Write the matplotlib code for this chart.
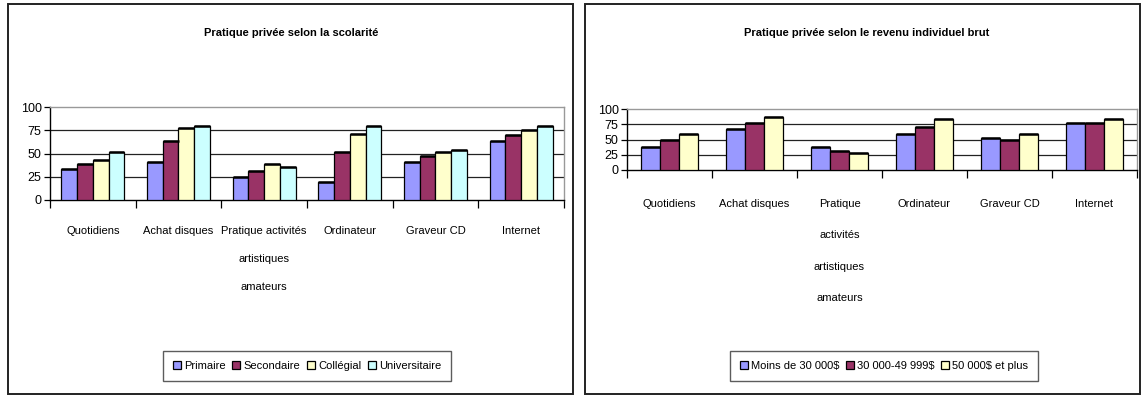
import matplotlib
matplotlib.use("Agg")
import numpy as np
import matplotlib.pyplot as plt
import matplotlib.patches as mpatches
from matplotlib import font_manager

# narrow font if available, otherwise Arial-like Liberation Sans
names = {f.name for f in font_manager.fontManager.ttflist}
if 'Liberation Sans Narrow' in names:
    plt.rcParams['font.family'] = ['Liberation Sans Narrow', 'DejaVu Sans']
    fs = 9
else:
    plt.rcParams['font.family'] = ['Liberation Sans', 'DejaVu Sans']
    fs = 8

# Data - left chart (scolarité)
cats_left = ['Quotidiens', 'Achat disques', 'Pratique activités\nartistiques\namateurs',
             'Ordinateur', 'Graveur CD', 'Internet']
series_left = ['Primaire', 'Secondaire', 'Collégial', 'Universitaire']
primaire = [33.5, 40.6, 24.8, 19.8, 40.6, 63.7]
secondaire = [38.5, 63.7, 31.7, 52, 47, 70]
collegial = [43, 77, 38.5, 70.5, 52, 75]
universitaire = [52, 79.5, 36, 79.5, 54.3, 79.5]

# Data - right chart (revenu)
cats_right = ['Quotidiens', 'Achat disques', 'Pratique\nactivités\nartistiques\namateurs',
              'Ordinateur', 'Graveur CD', 'Internet']
series_right = ['Moins de 30 000$', '30 000-49 999$', '50 000$ et plus']
moins_30k = [38, 66.7, 38, 59.5, 52.5, 77]
de_30k_50k = [49, 77, 31.7, 70, 49, 77]
plus_50k = [59.5, 87.4, 28.4, 84, 59.5, 84]

yticks = [0, 25, 50, 75, 100]
colors = ['#9999FF', '#993366', '#FFFFCC', '#CCFFFF']

W, H = 1143, 396
fig = plt.figure(figsize=(W / 100, H / 100), dpi=100)

# chart frames
for x0, x1 in [(8, 573), (585, 1140)]:
    fig.patches.append(mpatches.Rectangle((x0 / W, 2 / H), (x1 - x0) / W, (H - 6) / H,
                                          transform=fig.transFigure, fill=False,
                                          edgecolor='#222222', linewidth=1.4))


def px_axes(x0, x1, ytop, ybot):
    return fig.add_axes([x0 / W, 1 - ybot / H, (x1 - x0) / W, (ybot - ytop) / H])


def draw(ax, cats, data, names, bar_w, pad, lsp):
    x = np.arange(len(cats))
    n = len(data)
    for i, vals in enumerate(data):
        xs = x + (i - (n - 1) / 2) * bar_w
        ax.bar(xs, vals, bar_w, color=colors[i], edgecolor='black', linewidth=0.9,
               label=names[i], zorder=3)
        # thicker top edge, like the original's shadow
        ax.hlines(vals, xs - bar_w / 2, xs + bar_w / 2, color='black', linewidth=1.8, zorder=4)
    ax.set_xlim(-0.5, len(cats) - 0.5)
    ax.set_ylim(0, 100)
    ax.set_yticks(yticks)
    ax.set_yticklabels([str(v) for v in yticks], fontsize=fs + 1)
    ax.set_xticks(np.arange(len(cats) + 1) - 0.5)
    ax.set_xticklabels([])
    ax.set_xticks(x, minor=True)
    ax.set_xticklabels(cats, minor=True, fontsize=fs, linespacing=lsp, va='top')
    ax.tick_params(axis='x', which='major', direction='out', length=6, width=0.9)
    ax.tick_params(axis='x', which='minor', length=0, pad=pad)
    ax.tick_params(axis='y', direction='out', length=4, width=0.9, pad=2)
    for v in [25, 50, 75]:
        ax.axhline(v, color='#222222', linewidth=0.9, zorder=1)
    ax.spines['left'].set_color('black')
    ax.spines['bottom'].set_color('black')
    ax.spines['top'].set_color('#999999')
    ax.spines['right'].set_color('#999999')
    for s in ax.spines.values():
        s.set_linewidth(1.0)


ax1 = px_axes(50, 564, 107, 200)
draw(ax1, cats_left, [primaire, secondaire, collegial, universitaire], series_left, 0.183, 19, 3.2)
fig.text(291 / W, 1 - 33 / H, 'Pratique privée selon la scolarité', ha='center', va='center',
         fontsize=fs, fontweight='bold')

ax2 = px_axes(627, 1137, 109, 170)
draw(ax2, cats_right, [moins_30k, de_30k_50k, plus_50k], series_right, 0.223, 21, 3.65)
fig.text(867 / W, 1 - 33 / H, 'Pratique privée selon le revenu individuel brut', ha='center',
         va='center', fontsize=fs, fontweight='bold')

for ax, cx in [(ax1, 307), (ax2, 884)]:
    h, l = ax.get_legend_handles_labels()
    leg = fig.legend(h, l, loc='center', bbox_to_anchor=(cx / W, 1 - 366 / H), ncol=len(h),
                     fontsize=fs, frameon=True, fancybox=False, handlelength=0.7,
                     handleheight=0.7, handletextpad=0.3, columnspacing=0.6,
                     borderpad=0.9, edgecolor='#333333')
    leg.get_frame().set_linewidth(1.0)

fig.savefig('out.png', dpi=100)
